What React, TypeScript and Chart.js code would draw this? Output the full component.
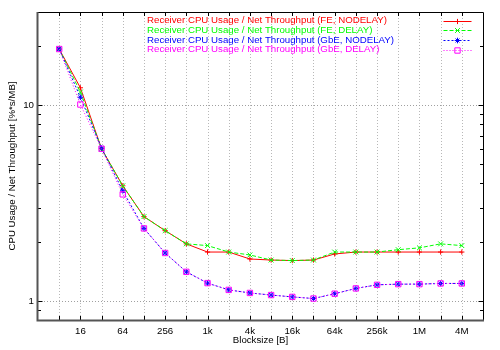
import React, { useEffect, useRef } from 'react';
import { Chart, registerables } from 'chart.js';

Chart.register(...registerables);

// Block sizes in bytes (x categories)
const blocksizes = [8, 16, 32, 64, 128, 256, 512, 1024, 2048, 4096, 8192, 16384, 32768, 65536, 131072, 262144, 524288, 1048576, 2097152, 4194304];
const xTickLabels = ['', '16', '', '64', '', '256', '', '1k', '', '4k', '', '16k', '', '64k', '', '256k', '', '1M', '', '4M'];

const yTickValues = [0.9, 1, 2, 3, 4, 5, 6, 7, 8, 9, 10, 20, 30];
const yTickLabels = ['', '1', '', '', '', '', '', '', '', '', '10', '', ''];
const yGridValues = [1, 10];

const seriesNames = [
  'Receiver CPU Usage / Net Throughput (FE, NODELAY)',
  'Receiver CPU Usage / Net Throughput (FE, DELAY)',
  'Receiver CPU Usage / Net Throughput (GbE, NODELAY)',
  'Receiver CPU Usage / Net Throughput (GbE, DELAY)',
];
const feNodelay = [19.4, 12.3, 6.0, 3.88, 2.70, 2.29, 1.96, 1.78, 1.78, 1.64, 1.62, 1.61, 1.62, 1.74, 1.78, 1.78, 1.78, 1.78, 1.78, 1.78];
const feDelay = [19.4, 11.7, 6.0, 3.88, 2.70, 2.29, 1.96, 1.92, 1.78, 1.72, 1.62, 1.61, 1.62, 1.78, 1.78, 1.78, 1.83, 1.87, 1.96, 1.92];
const gbeNodelay = [19.4, 11.0, 6.05, 3.66, 2.35, 1.76, 1.41, 1.235, 1.14, 1.10, 1.073, 1.05, 1.03, 1.09, 1.16, 1.21, 1.22, 1.22, 1.23, 1.23];
const gbeDelay = [19.4, 10.1, 6.0, 3.51, 2.35, 1.76, 1.41, 1.235, 1.14, 1.10, 1.073, 1.05, 1.03, 1.09, 1.16, 1.21, 1.22, 1.22, 1.23, 1.23];

const FONT = '"Liberation Sans", Arial, Helvetica, sans-serif';
const FSIZE = 9.7;

const styles = [
  { color: '#ff0000', dash: [] as number[], point: 'cross', radius: 2.6, order: 4 },
  { color: '#00ff00', dash: [4, 2], point: 'crossRot', radius: 3.4, order: 3 },
  { color: '#0000ff', dash: [2, 2], point: 'star', radius: 2.8, order: 2 },
  { color: '#ff00ff', dash: [1, 2], point: 'rect', radius: 3.8, order: 1 },
];

function drawMarker(ctx: CanvasRenderingContext2D, style: string, x: number, y: number, r: number) {
  ctx.beginPath();
  if (style === 'cross' || style === 'star') {
    ctx.moveTo(x - r, y); ctx.lineTo(x + r, y);
    ctx.moveTo(x, y - r); ctx.lineTo(x, y + r);
  }
  if (style === 'crossRot' || style === 'star') {
    const d = r * Math.SQRT1_2;
    ctx.moveTo(x - d, y - d); ctx.lineTo(x + d, y + d);
    ctx.moveTo(x - d, y + d); ctx.lineTo(x + d, y - d);
  }
  if (style === 'rect') {
    const s = r * Math.SQRT1_2;
    ctx.rect(x - s, y - s, 2 * s, 2 * s);
  }
  ctx.stroke();
}

const framePlugin = {
  id: 'gnuplotFrame',
  beforeDatasetsDraw(chart: any) {
    const { ctx, chartArea: a, scales } = chart;
    const x = scales.x, y = scales.y;
    ctx.save();
    ctx.lineWidth = 1;
    ctx.setLineDash([1, 2]);
    ctx.strokeStyle = '#b8b8b8';
    blocksizes.forEach((v) => {
      const px = Math.round(x.getPixelForValue(v)) + 0.5;
      ctx.beginPath(); ctx.moveTo(px, a.top); ctx.lineTo(px, a.bottom); ctx.stroke();
    });
    ctx.strokeStyle = '#a0a0a0';
    yGridValues.forEach((v) => {
      const py = Math.round(y.getPixelForValue(v)) + 0.5;
      ctx.beginPath(); ctx.moveTo(a.left, py); ctx.lineTo(a.right, py); ctx.stroke();
    });
    ctx.restore();
  },
  afterDatasetsDraw(chart: any) {
    const { ctx, chartArea: a, scales } = chart;
    const x = scales.x, y = scales.y;
    ctx.save();
    ctx.setLineDash([]);
    // tick marks (inward)
    ctx.strokeStyle = '#000';
    ctx.lineWidth = 1;
    blocksizes.forEach((v) => {
      const px = Math.round(x.getPixelForValue(v)) + 0.5;
      ctx.beginPath();
      ctx.moveTo(px, a.bottom); ctx.lineTo(px, a.bottom - 4);
      ctx.moveTo(px, a.top); ctx.lineTo(px, a.top + 4);
      ctx.stroke();
    });
    yTickValues.forEach((v, i) => {
      const py = Math.round(y.getPixelForValue(v)) + 0.5;
      const len = yTickLabels[i] ? 4.5 : 3;
      ctx.beginPath();
      ctx.moveTo(a.left, py); ctx.lineTo(a.left + len, py);
      ctx.moveTo(a.right, py); ctx.lineTo(a.right - len, py);
      ctx.stroke();
    });
    // border
    ctx.strokeStyle = '#000';
    ctx.lineWidth = 1;
    ctx.beginPath();
    ctx.moveTo(a.left, a.top + 0.5); ctx.lineTo(a.right + 0.5, a.top + 0.5);
    ctx.lineTo(a.right + 0.5, a.bottom);
    ctx.stroke();
    ctx.strokeStyle = '#555';
    ctx.lineWidth = 2;
    ctx.beginPath();
    ctx.moveTo(a.left - 0.5, a.top); ctx.lineTo(a.left - 0.5, a.bottom + 0.5);
    ctx.lineTo(a.right + 1, a.bottom + 0.5);
    ctx.stroke();
    // legend
    ctx.font = `${FSIZE}px ${FONT}`;
    ctx.textBaseline = 'middle';
    ctx.textAlign = 'left';
    const rowY0 = 20.5, rowStep = 9.7, textX = 147, lx0 = 443.5, lx1 = 471.5;
    chart.data.datasets.forEach((ds: any, i: number) => {
      const st = styles[i];
      const ry = rowY0 + i * rowStep;
      ctx.fillStyle = st.color;
      ctx.fillText(seriesNames[i], textX, ry);
      ctx.strokeStyle = st.color;
      ctx.lineWidth = 1;
      ctx.setLineDash(st.dash);
      ctx.beginPath(); ctx.moveTo(lx0, Math.round(ry) + 0.5); ctx.lineTo(lx1, Math.round(ry) + 0.5); ctx.stroke();
      ctx.setLineDash([]);
      drawMarker(ctx, st.point, (lx0 + lx1) / 2, Math.round(ry) + 0.5, st.radius);
    });
    ctx.restore();
  },
};

export default function App() {
  const canvasRef = useRef<HTMLCanvasElement | null>(null);

  useEffect(() => {
    document.body.style.margin = '0';
    const canvas = canvasRef.current;
    if (!canvas) return;
    const series = [feNodelay, feDelay, gbeNodelay, gbeDelay];
    const chart = new Chart(canvas, {
      type: 'line',
      data: {
        datasets: series.map((vals, i) => ({
          label: seriesNames[i],
          data: blocksizes.map((b, j) => ({ x: b, y: vals[j] })),
          borderColor: styles[i].color,
          backgroundColor: 'transparent',
          borderWidth: 1,
          borderDash: styles[i].dash,
          pointStyle: styles[i].point as any,
          pointRadius: styles[i].radius,
          pointBorderWidth: 1,
          pointBorderColor: styles[i].color,
          pointBackgroundColor: 'transparent',
          tension: 0,
          fill: false,
          order: styles[i].order,
        })),
      },
      options: {
        animation: false,
        responsive: false,
        maintainAspectRatio: false,
        layout: { padding: { top: 12, right: 17, left: 0, bottom: 0 } },
        plugins: {
          legend: { display: false },
          tooltip: { enabled: false },
          title: { display: false },
        },
        scales: {
          x: {
            type: 'logarithmic',
            min: 4,
            max: 8388608,
            grid: { display: false, drawTicks: false },
            border: { display: false },
            afterBuildTicks: (scale: any) => {
              scale.ticks = blocksizes.map((v) => ({ value: v }));
            },
            afterFit: (scale: any) => { scale.height = 30; },
            ticks: {
              autoSkip: false,
              maxRotation: 0,
              padding: 6,
              color: '#000',
              font: { family: FONT, size: FSIZE },
              callback: (_v: any, i: number) => xTickLabels[i],
            },
            title: {
              display: true,
              text: 'Blocksize [B]',
              color: '#000',
              font: { family: FONT, size: FSIZE },
              padding: { top: 0, bottom: 4 },
            },
          },
          y: {
            type: 'logarithmic',
            min: 0.8,
            max: 30,
            grid: { display: false, drawTicks: false },
            border: { display: false },
            afterBuildTicks: (scale: any) => {
              scale.ticks = yTickValues.map((v) => ({ value: v }));
            },
            afterFit: (scale: any) => { scale.width = 38; },
            ticks: {
              autoSkip: false,
              padding: 4,
              color: '#000',
              font: { family: FONT, size: FSIZE },
              callback: (_v: any, i: number) => yTickLabels[i],
            },
            title: {
              display: true,
              text: 'CPU Usage / Net Throughput [%*s/MB]',
              color: '#000',
              font: { family: FONT, size: FSIZE },
              padding: { top: 7, bottom: 0 },
            },
          },
        },
      },
      plugins: [framePlugin],
    });
    return () => chart.destroy();
  }, []);

  return (
    <div style={{ width: 500, height: 350 }}>
      <canvas ref={canvasRef} width={500} height={350} style={{ display: 'block' }} />
    </div>
  );
}
